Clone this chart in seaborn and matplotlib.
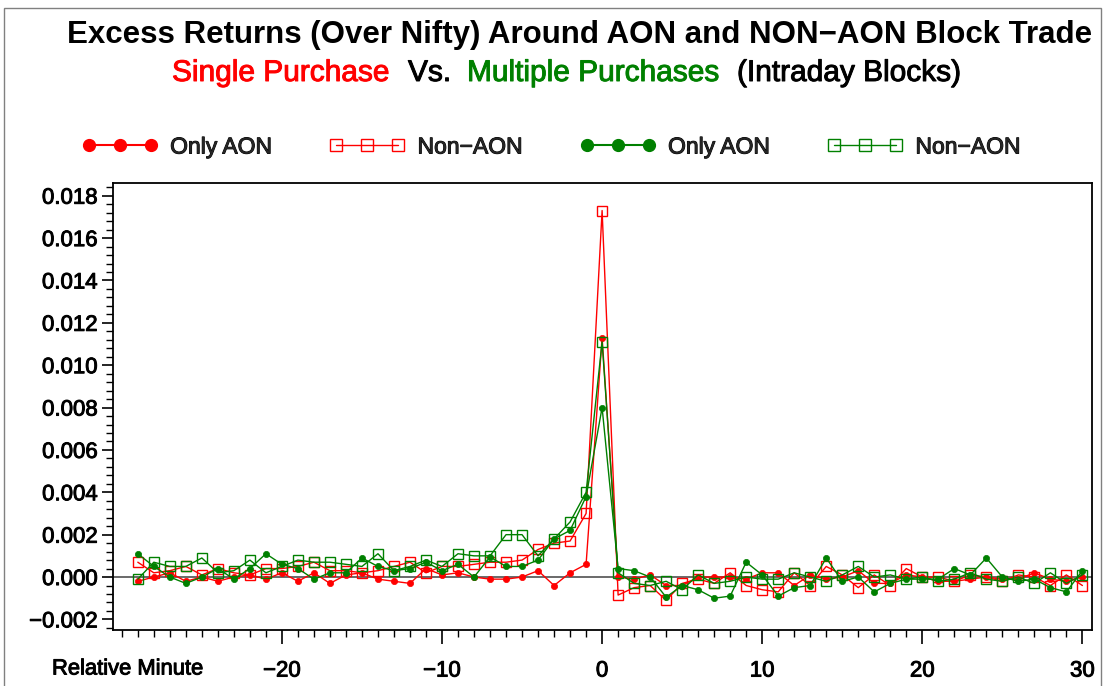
import matplotlib
matplotlib.use('Agg')
import matplotlib.pyplot as plt
import matplotlib.patheffects as pe
from matplotlib.lines import Line2D
from matplotlib.patches import Rectangle
from matplotlib.ticker import MultipleLocator, FixedLocator, FixedFormatter
import seaborn as sns

# ---------------- data ----------------
minutes = list(range(-29, 31))

single_only_aon = [
    -0.0002, 0.0000, 0.0002, -0.0002, 0.0000, -0.0002, 0.0000, 0.0001, -0.0001, 0.0002,
    -0.0002, 0.0002, -0.0003, 0.0001, 0.0002, -0.0001, -0.0002, -0.0003, 0.0004, 0.0001,
    0.0002, 0.0000, -0.0001, -0.0001, 0.0000, 0.0003, -0.0004, 0.0002, 0.0006, 0.0113,
    0.0000, -0.0001, 0.0001, -0.0004, -0.0004, 0.0000, 0.0000, 0.0000, -0.0001, 0.0002,
    0.0002, -0.0004, 0.0001, -0.0001, 0.0000, 0.0003, -0.0003, -0.0003, 0.0001, 0.0000,
    -0.0002, -0.0002, -0.0001, 0.0000, -0.0001, -0.0001, 0.0002, -0.0001, -0.0002, 0.0000]

single_non_aon = [
    0.0007, 0.0002, 0.0003, 0.0005, 0.0001, 0.0004, 0.0002, 0.0001, 0.0004, 0.0004,
    0.0005, 0.0007, 0.0003, 0.0003, 0.0002, 0.0003, 0.0005, 0.0007, 0.0002, 0.0005,
    0.0005, 0.0006, 0.0007, 0.0007, 0.0008, 0.0013, 0.0016, 0.0017, 0.0030, 0.0173,
    -0.00085, -0.0005, -0.0004, -0.0011, -0.0003, -0.0001, -0.0003, 0.0002, -0.0004, -0.0006,
    -0.0007, 0.0002, -0.0004, 0.0005, 0.0001, -0.0005, 0.0001, -0.0004, 0.0004, 0.0000,
    0.0000, -0.0002, 0.0001, 0.0000, -0.0002, 0.0001, 0.0000, -0.0004, 0.0001, -0.0004]

multi_only_aon = [
    0.0011, 0.0005, 0.0000, -0.0003, 0.0000, 0.0004, -0.0001, 0.0004, 0.0011, 0.0006,
    0.0004, -0.0001, 0.0002, 0.0002, 0.0009, 0.0005, 0.0003, 0.0004, 0.0007, 0.0003,
    0.0006, 0.0000, 0.00095, 0.0005, 0.0005, 0.0008, 0.0018, 0.0022, 0.0038, 0.0080,
    0.0004, 0.0003, 0.0000, -0.00095, -0.0004, -0.0006, -0.0010, -0.0009, 0.0007, 0.0001,
    -0.0009, -0.0005, -0.0004, 0.0009, -0.0002, 0.0000, -0.0007, -0.0003, -0.0001, -0.0001,
    -0.0001, 0.0004, 0.0001, 0.0009, 0.0000, -0.0002, -0.0001, -0.0005, -0.0007, 0.0003]

multi_non_aon = [
    -0.0001, 0.0007, 0.0005, 0.0005, 0.0009, 0.0002, 0.0003, 0.0008, 0.0002, 0.0005,
    0.0008, 0.0007, 0.0007, 0.0006, 0.0005, 0.0011, 0.0003, 0.0005, 0.0008, 0.0005,
    0.0011, 0.0010, 0.0010, 0.0020, 0.0020, 0.0010, 0.0018, 0.0026, 0.0040, 0.0111,
    0.0002, -0.0003, -0.0004, -0.0002, -0.0006, 0.0001, -0.0003, -0.0002, 0.0000, -0.0001,
    -0.0001, 0.0002, 0.0000, -0.0002, 0.0001, 0.0005, 0.0000, 0.0001, -0.0001, 0.0000,
    -0.0002, -0.0001, 0.0002, -0.0001, -0.0002, 0.0000, -0.0003, 0.0002, -0.0003, 0.0001]

series_labels = ['Only AON', 'Non\u2212AON', 'Only AON', 'Non\u2212AON']
title_text = 'Excess Returns (Over Nifty) Around AON and NON\u2212AON Block Trade'
subtitle_parts = ['Single Purchase', 'Vs.', 'Multiple Purchases', '(Intraday Blocks)']
x_axis_label = 'Relative Minute'
x_major_ticks = [-20, -10, 0, 10, 20, 30]
x_tick_labels = ['\u221220', '\u221210', '0', '10', '20', '30']
y_ticks = [-0.002, 0.000, 0.002, 0.004, 0.006, 0.008, 0.010, 0.012, 0.014, 0.016, 0.018]
y_tick_labels = ['\u22120.002', '0.000', '0.002', '0.004', '0.006', '0.008',
                 '0.010', '0.012', '0.014', '0.016', '0.018']

# ---------------- style ----------------
sns.set_theme(style='ticks')
plt.rcParams['font.family'] = ['Liberation Sans', 'DejaVu Sans']

RED = '#FF0000'
GREEN = '#008000'
W, H = 1109, 686


def heavy(color):
    return [pe.withStroke(linewidth=0.7, foreground=color)]


fig = plt.figure(figsize=(W / 100, H / 100), dpi=100)
fig.patch.set_facecolor('white')
ax = fig.add_axes([113 / W, 56 / H, (1092 - 113) / W, (630 - 183) / H])

ax.axhline(0, color='#505050', lw=1.2, zorder=1)

specs = [
    (single_only_aon, RED, 'o'),
    (single_non_aon, RED, 's'),
    (multi_only_aon, GREEN, 'o'),
    (multi_non_aon, GREEN, 's'),
]
for vals, color, marker in specs:
    if marker == 'o':
        sns.lineplot(x=minutes, y=vals, ax=ax, color=color, lw=1.0, marker='o',
                     markersize=4.5, markerfacecolor=color, markeredgecolor=color,
                     markeredgewidth=0.5, legend=False, zorder=3)
    else:
        sns.lineplot(x=minutes, y=vals, ax=ax, color=color, lw=1.0, marker='s',
                     markersize=7.5, markerfacecolor='none', markeredgecolor=color,
                     markeredgewidth=1.0, legend=False, zorder=3)

ax.set_xlim(-30.55, 30.6)
ax.set_ylim(-0.0025, 0.0186)
ax.set_xlabel('')
ax.set_ylabel('')

ax.xaxis.set_major_locator(FixedLocator(x_major_ticks))
ax.xaxis.set_major_formatter(FixedFormatter(x_tick_labels))
ax.xaxis.set_minor_locator(MultipleLocator(1))
ax.yaxis.set_major_locator(FixedLocator(y_ticks))
ax.yaxis.set_major_formatter(FixedFormatter(y_tick_labels))
ax.yaxis.set_minor_locator(MultipleLocator(0.0004))

ax.tick_params(which='major', direction='out', width=1.2, color='black',
               labelsize=16, labelcolor='black')
ax.tick_params(axis='x', which='major', length=10, pad=12)
ax.tick_params(axis='y', which='major', length=8, pad=3)
ax.tick_params(which='minor', direction='out', length=5, width=1.0, color='black')

for lab in ax.get_xticklabels() + ax.get_yticklabels():
    lab.set_path_effects(heavy('black'))

for sp in ax.spines.values():
    sp.set_visible(True)
    sp.set_color('black')
    sp.set_linewidth(1.3)

# titles
fig.text(580 / W, 1 - 35 / H, title_text, ha='center', va='center',
         fontsize=22.5, fontweight='bold', color='black')
sub_lefts = [172, 408, 467, 737]
sub_colors = [RED, 'black', GREEN, 'black']
for txt, xl, col in zip(subtitle_parts, sub_lefts, sub_colors):
    fig.text(xl / W, 1 - 73 / H, txt, ha='left', va='center', fontsize=21.5, color=col,
             path_effects=heavy(col))

# legend
handles = [
    Line2D([], [], color=RED, lw=1.5, marker='o', markersize=8.5, markerfacecolor=RED,
           markeredgecolor=RED),
    Line2D([], [], color=RED, lw=1.0, marker='s', markersize=8, markerfacecolor='none',
           markeredgecolor=RED),
    Line2D([], [], color=GREEN, lw=1.5, marker='o', markersize=8.5, markerfacecolor=GREEN,
           markeredgecolor=GREEN),
    Line2D([], [], color=GREEN, lw=1.0, marker='s', markersize=8, markerfacecolor='none',
           markeredgecolor=GREEN),
]
leg = fig.legend(handles, series_labels, loc='center', bbox_to_anchor=(0.497, 1 - 147 / H),
                 ncol=4, frameon=False, fontsize=16.5, handlelength=3.3, handletextpad=0.55,
                 columnspacing=2.5, numpoints=3)
for t in leg.get_texts():
    t.set_path_effects(heavy('black'))

fig.text(52 / W, 17 / H, x_axis_label, ha='left', va='center', fontsize=15.8, color='black',
         path_effects=heavy('black'))

fig.patches.append(Rectangle((4 / W, -0.05), (1101 - 4) / W, 1 - 8 / H + 0.05,
                             transform=fig.transFigure, fill=False,
                             edgecolor='#808080', lw=1.0))

fig.savefig('out.png', dpi=100)
